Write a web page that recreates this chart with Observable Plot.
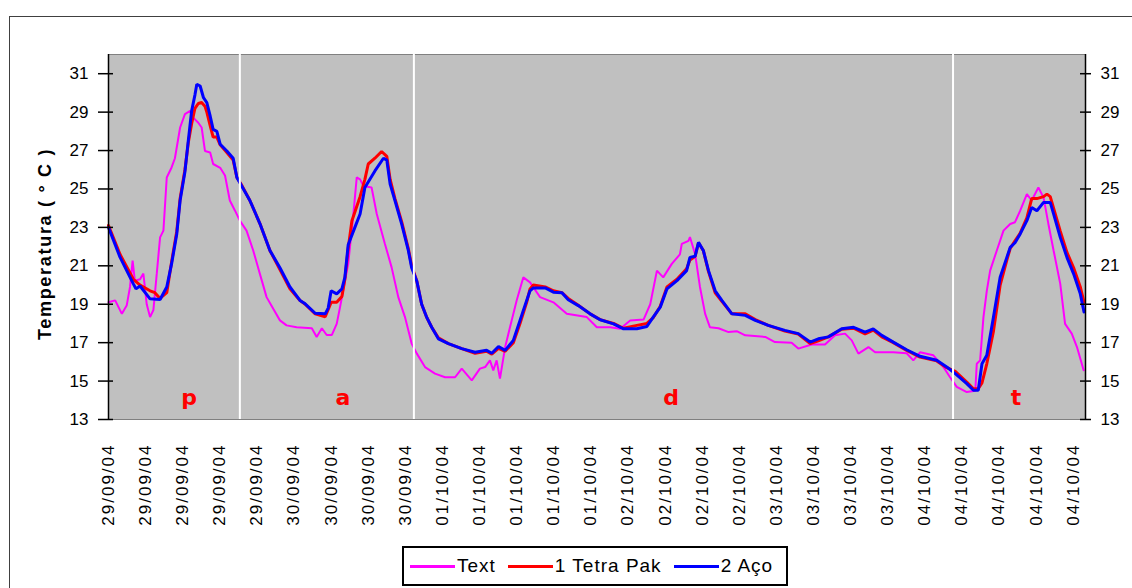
<!DOCTYPE html>
<html>
<head>
<meta charset="utf-8">
<script src="https://cdn.jsdelivr.net/npm/d3@7"></script>
<script src="https://cdn.jsdelivr.net/npm/@observablehq/plot@0.6"></script>
<style>
  html, body { margin: 0; padding: 0; background: #fff; }
  #wrap { position: relative; width: 1132px; height: 588px; overflow: hidden; background: #fff;
          font-family: "Liberation Sans", Arial, sans-serif; }
  #outer { position: absolute; left: 9px; top: 16px; width: 1300px; height: 800px; border: 1px solid #404040; box-sizing: border-box; }
  #chart { position: absolute; left: 0; top: 0; }
  #chart svg g[aria-label="x-axis tick label"] text { letter-spacing: 2px; }
  #ytitle { position: absolute; left: 45px; top: 244px; transform: translate(-50%, -50%) rotate(-90deg);
            font-weight: bold; font-size: 18px; letter-spacing: 1.7px; white-space: nowrap; color: #000; }
  #legend { position: absolute; left: 402px; top: 546px; width: 386px; height: 40px; box-sizing: border-box;
            border: 2px solid #000; display: flex; align-items: center; padding-left: 6px; font-size: 19px;
            letter-spacing: 1px; color: #000; background: #fff; white-space: nowrap; overflow: hidden; }
  #legend .item { display: flex; align-items: center; margin-right: 12px; flex-shrink: 0; white-space: nowrap; }
  #legend .sw { display: inline-block; width: 45px; height: 3px; margin-right: 2px; flex-shrink: 0; }
</style>
</head>
<body>
<div id="wrap">
  <div id="outer"></div>
  <div id="chart"></div>
  <div id="ytitle"></div>
  <div id="legend"></div>
</div>
<script>
// ---- Data (x = position in tick-label units, 0 = first label) ----
const dates = ["29/09/04","29/09/04","29/09/04","29/09/04","29/09/04",
               "30/09/04","30/09/04","30/09/04","30/09/04",
               "01/10/04","01/10/04","01/10/04","01/10/04","01/10/04",
               "02/10/04","02/10/04","02/10/04","02/10/04",
               "03/10/04","03/10/04","03/10/04","03/10/04",
               "04/10/04","04/10/04","04/10/04","04/10/04","04/10/04"];
const yTicks = [13, 15, 17, 19, 21, 23, 25, 27, 29, 31];
const seriesNames = ["Text", "1 Tetra Pak", "2 Aço"];
const seriesColors = ["#ff00ff", "#ff0000", "#0000ff"];
const periodLabels = ["p", "a", "d", "t"];
const periodPos = [2.17, 6.32, 15.16, 24.46];
const periodBreaks = [3.54, 8.23, 22.76];

const textT = [0,0.18,0.36,0.49,0.58,0.65,0.71,0.85,0.94,1.03,
  1.12,1.21,1.30,1.39,1.48,1.57,1.70,1.79,1.93,2.06,
  2.20,2.29,2.42,2.51,2.60,2.74,2.82,3.01,3.14,3.27,
  3.41,3.54,3.72,3.90,4.08,4.26,4.44,4.62,4.80,5.07,
  5.48,5.61,5.75,5.88,6.02,6.15,6.24,6.46,6.60,6.69,
  6.78,6.87,7.09,7.23,7.45,7.63,7.81,7.99,8.17,8.31,
  8.53,8.80,9.07,9.34,9.52,9.79,10.01,10.15,10.28,10.37,
  10.46,10.55,10.69,10.82,11.00,11.18,11.36,11.63,11.99,12.35,
  12.89,13.16,13.52,13.79,14.06,14.42,14.60,14.78,14.95,15.18,
  15.40,15.45,15.63,15.67,15.81,15.94,16.08,16.21,16.44,16.71,
  16.93,17.16,17.70,17.96,18.41,18.59,18.95,19.31,19.58,19.85,
  20.03,20.21,20.48,20.66,20.84,21.15,21.51,21.69,21.87,22.23,
  22.50,22.68,22.86,23.13,23.36,23.40,23.49,23.58,23.67,23.76,
  23.94,24.12,24.30,24.43,24.57,24.75,24.88,25.06,25.20,25.33,
  25.47,25.65,25.78,25.96,26.10,26.23,26.28];
const textV = [19.1,19.2,18.5,18.93,19.9,21.27,20.23,20.3,20.6,19.0,
  18.33,18.7,20.58,22.48,22.83,25.6,26.12,26.6,28.2,28.9,
  29.06,28.7,28.45,28.2,26.98,26.9,26.3,26.1,25.7,24.4,
  23.87,23.35,22.83,21.8,20.58,19.37,18.76,18.16,17.9,17.8,
  17.75,17.3,17.75,17.4,17.4,17.98,18.85,21.1,23.7,25.6,
  25.5,25.16,25.08,23.7,22.14,20.92,19.37,18.33,16.95,16.43,
  15.73,15.39,15.2,15.2,15.65,15.04,15.65,15.73,16.08,15.56,
  16.08,15.13,16.77,17.8,19.19,20.4,20.14,19.37,19.1,18.5,
  18.33,17.8,17.8,17.72,18.15,18.2,19.0,20.75,20.4,21.1,
  21.6,22.14,22.3,22.5,21.6,19.9,18.5,17.8,17.75,17.55,
  17.6,17.38,17.3,17.03,17.0,16.69,16.9,16.9,17.38,17.47,
  17.12,16.43,16.77,16.5,16.5,16.5,16.45,16.08,16.5,16.34,
  15.73,15.2,14.7,14.43,14.5,15.9,16.08,18.33,19.7,20.75,
  21.8,22.83,23.18,23.27,23.87,24.73,24.4,25.08,24.55,23.18,
  21.8,20.06,17.98,17.47,16.77,15.9,15.56];

const tetraT = [0,0.31,0.67,0.85,1.12,1.25,1.39,1.57,1.70,1.84,
  1.93,2.06,2.15,2.24,2.33,2.42,2.51,2.60,2.65,2.74,
  2.82,2.92,3.01,3.19,3.36,3.46,3.59,3.81,4.08,4.35,
  4.62,4.89,5.16,5.30,5.57,5.84,6.00,6.15,6.29,6.37,
  6.46,6.56,6.64,6.78,6.91,7.00,7.18,7.36,7.50,7.59,
  7.72,7.90,8.08,8.17,8.31,8.44,8.58,8.71,8.89,9.16,
  9.52,9.88,10.19,10.33,10.51,10.69,10.91,11.09,11.27,11.36,
  11.45,11.77,11.99,12.22,12.39,12.66,12.98,13.25,13.61,13.88,
  14.24,14.51,14.68,14.87,15.05,15.32,15.58,15.67,15.81,15.90,
  16.03,16.17,16.35,16.53,16.80,17.16,17.43,17.78,18.23,18.59,
  18.91,19.13,19.40,19.76,20.08,20.39,20.61,20.84,21.15,21.51,
  21.87,22.32,22.59,22.82,23.13,23.31,23.44,23.54,23.67,23.85,
  24.03,24.21,24.30,24.43,24.57,24.75,24.88,25.02,25.20,25.29,
  25.38,25.47,25.65,25.83,26.01,26.19,26.29];
const tetraV = [23.1,21.6,20.3,20.0,19.7,19.6,19.3,19.6,21.2,22.8,
  24.5,26.0,27.4,28.4,29.2,29.45,29.5,29.3,29.0,28.3,
  27.7,27.7,27.3,26.9,26.5,25.6,25.2,24.4,23.2,21.8,
  20.8,19.8,19.2,19.0,18.5,18.35,19.1,19.1,19.4,20.3,
  21.9,23.35,23.8,24.6,25.5,26.3,26.6,26.95,26.7,25.5,
  24.5,23.3,21.9,21.0,20.2,19.0,18.3,17.8,17.25,16.95,
  16.69,16.45,16.55,16.4,16.7,16.55,17.0,18.0,19.1,19.8,
  20.0,19.9,19.7,19.6,19.3,18.95,18.5,18.2,18.0,17.75,
  17.9,18.0,18.3,18.9,19.9,20.3,20.85,21.3,21.5,22.2,
  21.8,20.7,19.6,19.15,18.5,18.5,18.2,17.9,17.6,17.45,
  16.95,17.1,17.3,17.7,17.75,17.45,17.65,17.3,17.0,16.6,
  16.25,16.05,15.7,15.5,14.95,14.6,14.6,14.9,15.9,17.6,
  20.0,21.3,21.9,22.3,22.7,23.5,24.5,24.5,24.6,24.73,
  24.6,24.0,22.8,21.7,20.9,19.9,19.1];

const acoT = [0,0.31,0.67,0.74,0.85,1.12,1.39,1.57,1.70,1.84,
  1.93,2.06,2.15,2.24,2.33,2.38,2.47,2.56,2.65,2.74,
  2.82,2.92,3.01,3.19,3.36,3.46,3.59,3.81,4.08,4.35,
  4.62,4.89,5.16,5.30,5.57,5.84,5.92,6.00,6.15,6.29,
  6.37,6.46,6.64,6.78,6.91,7.18,7.41,7.50,7.59,7.72,
  7.90,8.08,8.17,8.31,8.44,8.58,8.71,8.89,9.16,9.52,
  9.88,10.19,10.33,10.51,10.69,10.91,11.09,11.27,11.36,11.45,
  11.77,11.99,12.22,12.39,12.66,12.98,13.25,13.61,13.88,14.24,
  14.51,14.68,14.87,15.05,15.32,15.58,15.67,15.81,15.90,16.03,
  16.17,16.35,16.53,16.80,17.16,17.43,17.78,18.23,18.59,18.91,
  19.13,19.40,19.76,20.08,20.39,20.61,20.84,21.15,21.51,21.87,
  22.32,22.59,22.68,22.82,23.13,23.31,23.44,23.54,23.67,23.85,
  24.03,24.21,24.30,24.43,24.57,24.75,24.88,25.02,25.20,25.38,
  25.47,25.65,25.83,26.01,26.19,26.29];
const acoV = [23.0,21.45,20.06,19.8,19.95,19.28,19.25,19.9,21.1,22.66,
  24.4,25.9,27.5,29.06,29.9,30.45,30.36,29.75,29.5,28.8,
  28.1,28.0,27.33,26.98,26.6,25.6,25.16,24.4,23.2,21.8,
  20.9,19.9,19.2,19.02,18.53,18.5,18.8,19.7,19.54,19.8,
  20.4,22.1,23.0,23.7,25.08,25.94,26.6,26.5,25.26,24.4,
  23.18,21.8,20.9,20.2,19.0,18.3,17.8,17.2,16.95,16.69,
  16.5,16.6,16.45,16.8,16.6,17.12,18.16,19.2,19.7,19.85,
  19.85,19.63,19.6,19.23,18.93,18.5,18.19,17.98,17.72,17.72,
  17.84,18.33,18.85,19.8,20.23,20.75,21.44,21.5,22.22,21.8,
  20.75,19.7,19.2,18.5,18.42,18.16,17.9,17.64,17.47,17.03,
  17.2,17.3,17.72,17.8,17.55,17.72,17.38,17.03,16.63,16.29,
  16.08,15.73,15.6,15.39,14.87,14.52,14.52,15.9,16.34,18.33,
  20.4,21.44,21.96,22.2,22.66,23.35,24.04,23.87,24.3,24.3,
  23.7,22.48,21.44,20.58,19.54,18.6];

// ---- Build tables ----
const rowsOf = (T, V) => d3.zip(T, V).map(([t, v]) => ({t, v}));
const series = [rowsOf(textT, textV), rowsOf(tetraT, tetraV), rowsOf(acoT, acoV)];
const widths = [2, 3, 3];
const xMax = 26.33;

const chart = Plot.plot({
  width: 1132,
  height: 540,
  marginLeft: 108,
  marginRight: 47,
  marginTop: 54,
  marginBottom: 121,
  style: {fontFamily: "'Liberation Sans', Arial, sans-serif", fontSize: "17px", color: "#000", background: "transparent", overflow: "visible"},
  x: {domain: [0, xMax], axis: null},
  y: {domain: [13, 32], axis: null},
  marks: [
    Plot.frame({fill: "#c0c0c0", stroke: "#808080"}),
    ...series.map((rows, i) => Plot.line(rows, {x: "t", y: "v", stroke: seriesColors[i], strokeWidth: widths[i], strokeLinejoin: "miter", curve: "linear"})),
    Plot.ruleX(periodBreaks, {stroke: "#ffffff", strokeWidth: 2}),
    Plot.text(periodLabels, {x: periodPos, y: 14.1, text: d => d, fill: "#ff0000", fontWeight: "bold", fontSize: 22, fontFamily: "'DejaVu Sans', sans-serif"}),
    Plot.ruleX([0], {stroke: "#000", strokeWidth: 1.5}),
    Plot.ruleX([xMax], {stroke: "#000", strokeWidth: 1.5}),
    Plot.ruleY(yTicks, {x1: 0, x2: 0, insetLeft: -10, insetRight: -5, stroke: "#000", strokeWidth: 1.5}),
    Plot.ruleY(yTicks, {x1: xMax, x2: xMax, insetLeft: -5, insetRight: -6, stroke: "#000", strokeWidth: 1.5}),
    Plot.axisY({anchor: "left", ticks: yTicks, tickSize: 0, tickPadding: 20, fontSize: 17, label: null}),
    Plot.axisY({anchor: "right", ticks: yTicks, tickSize: 0, tickPadding: 15, fontSize: 17, label: null}),
    Plot.axisX({ticks: d3.range(dates.length), tickFormat: i => dates[i], tickRotate: -90, tickSize: 0, tickPadding: 24, fontSize: 17, label: null})
  ]
});
document.getElementById("chart").appendChild(chart);

document.getElementById("ytitle").textContent = "Temperatura ( ° C )";

const legend = document.getElementById("legend");
seriesNames.forEach((name, i) => {
  const item = document.createElement("span");
  item.className = "item";
  const sw = document.createElement("span");
  sw.className = "sw";
  sw.style.background = seriesColors[i];
  item.appendChild(sw);
  item.appendChild(document.createTextNode(name));
  legend.appendChild(item);
});
</script>
</body>
</html>
